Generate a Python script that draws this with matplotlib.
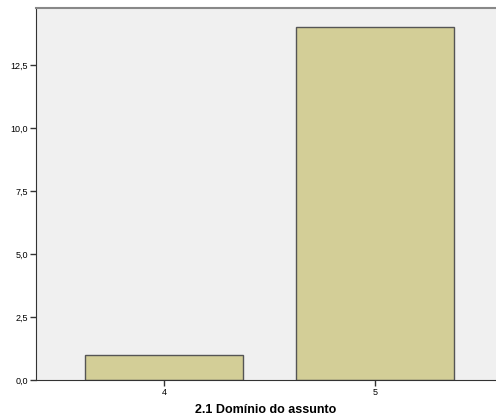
import matplotlib.pyplot as plt
from matplotlib.ticker import FuncFormatter

categorias = [4, 5]
contagens = [1, 14]

plt.rcParams['font.family'] = ['Liberation Sans', 'DejaVu Sans']

fig = plt.figure(figsize=(4.96, 4.2), dpi=100)
ax = fig.add_axes([36 / 496, 40 / 420, 460 / 496, 372 / 420])
ax.set_facecolor('#F0F0F0')

ax.bar(categorias, contagens, width=0.75, color='#D3CE97',
       edgecolor='#555555', linewidth=1.0, zorder=2)

ax.set_xlim(3.393, 5.573)
ax.set_ylim(0, 14.76)
ax.set_xticks(categorias)
ax.set_xticklabels([str(c) for c in categorias])
ax.set_yticks([0, 2.5, 5, 7.5, 10, 12.5])
ax.yaxis.set_major_formatter(FuncFormatter(lambda v, p: f'{v:.1f}'.replace('.', ',')))
ax.tick_params(labelsize=6.5, length=4, width=1, color='#333333', pad=2)

ax.spines['right'].set_visible(False)
ax.spines['top'].set_color('#888888')
ax.spines['top'].set_linewidth(1.5)
ax.spines['left'].set_color('#333333')
ax.spines['bottom'].set_color('#333333')

ax.set_xlabel('2.1 Domínio do assunto', fontsize=9, fontweight='bold', labelpad=5)

plt.savefig('out.png', dpi=100)
